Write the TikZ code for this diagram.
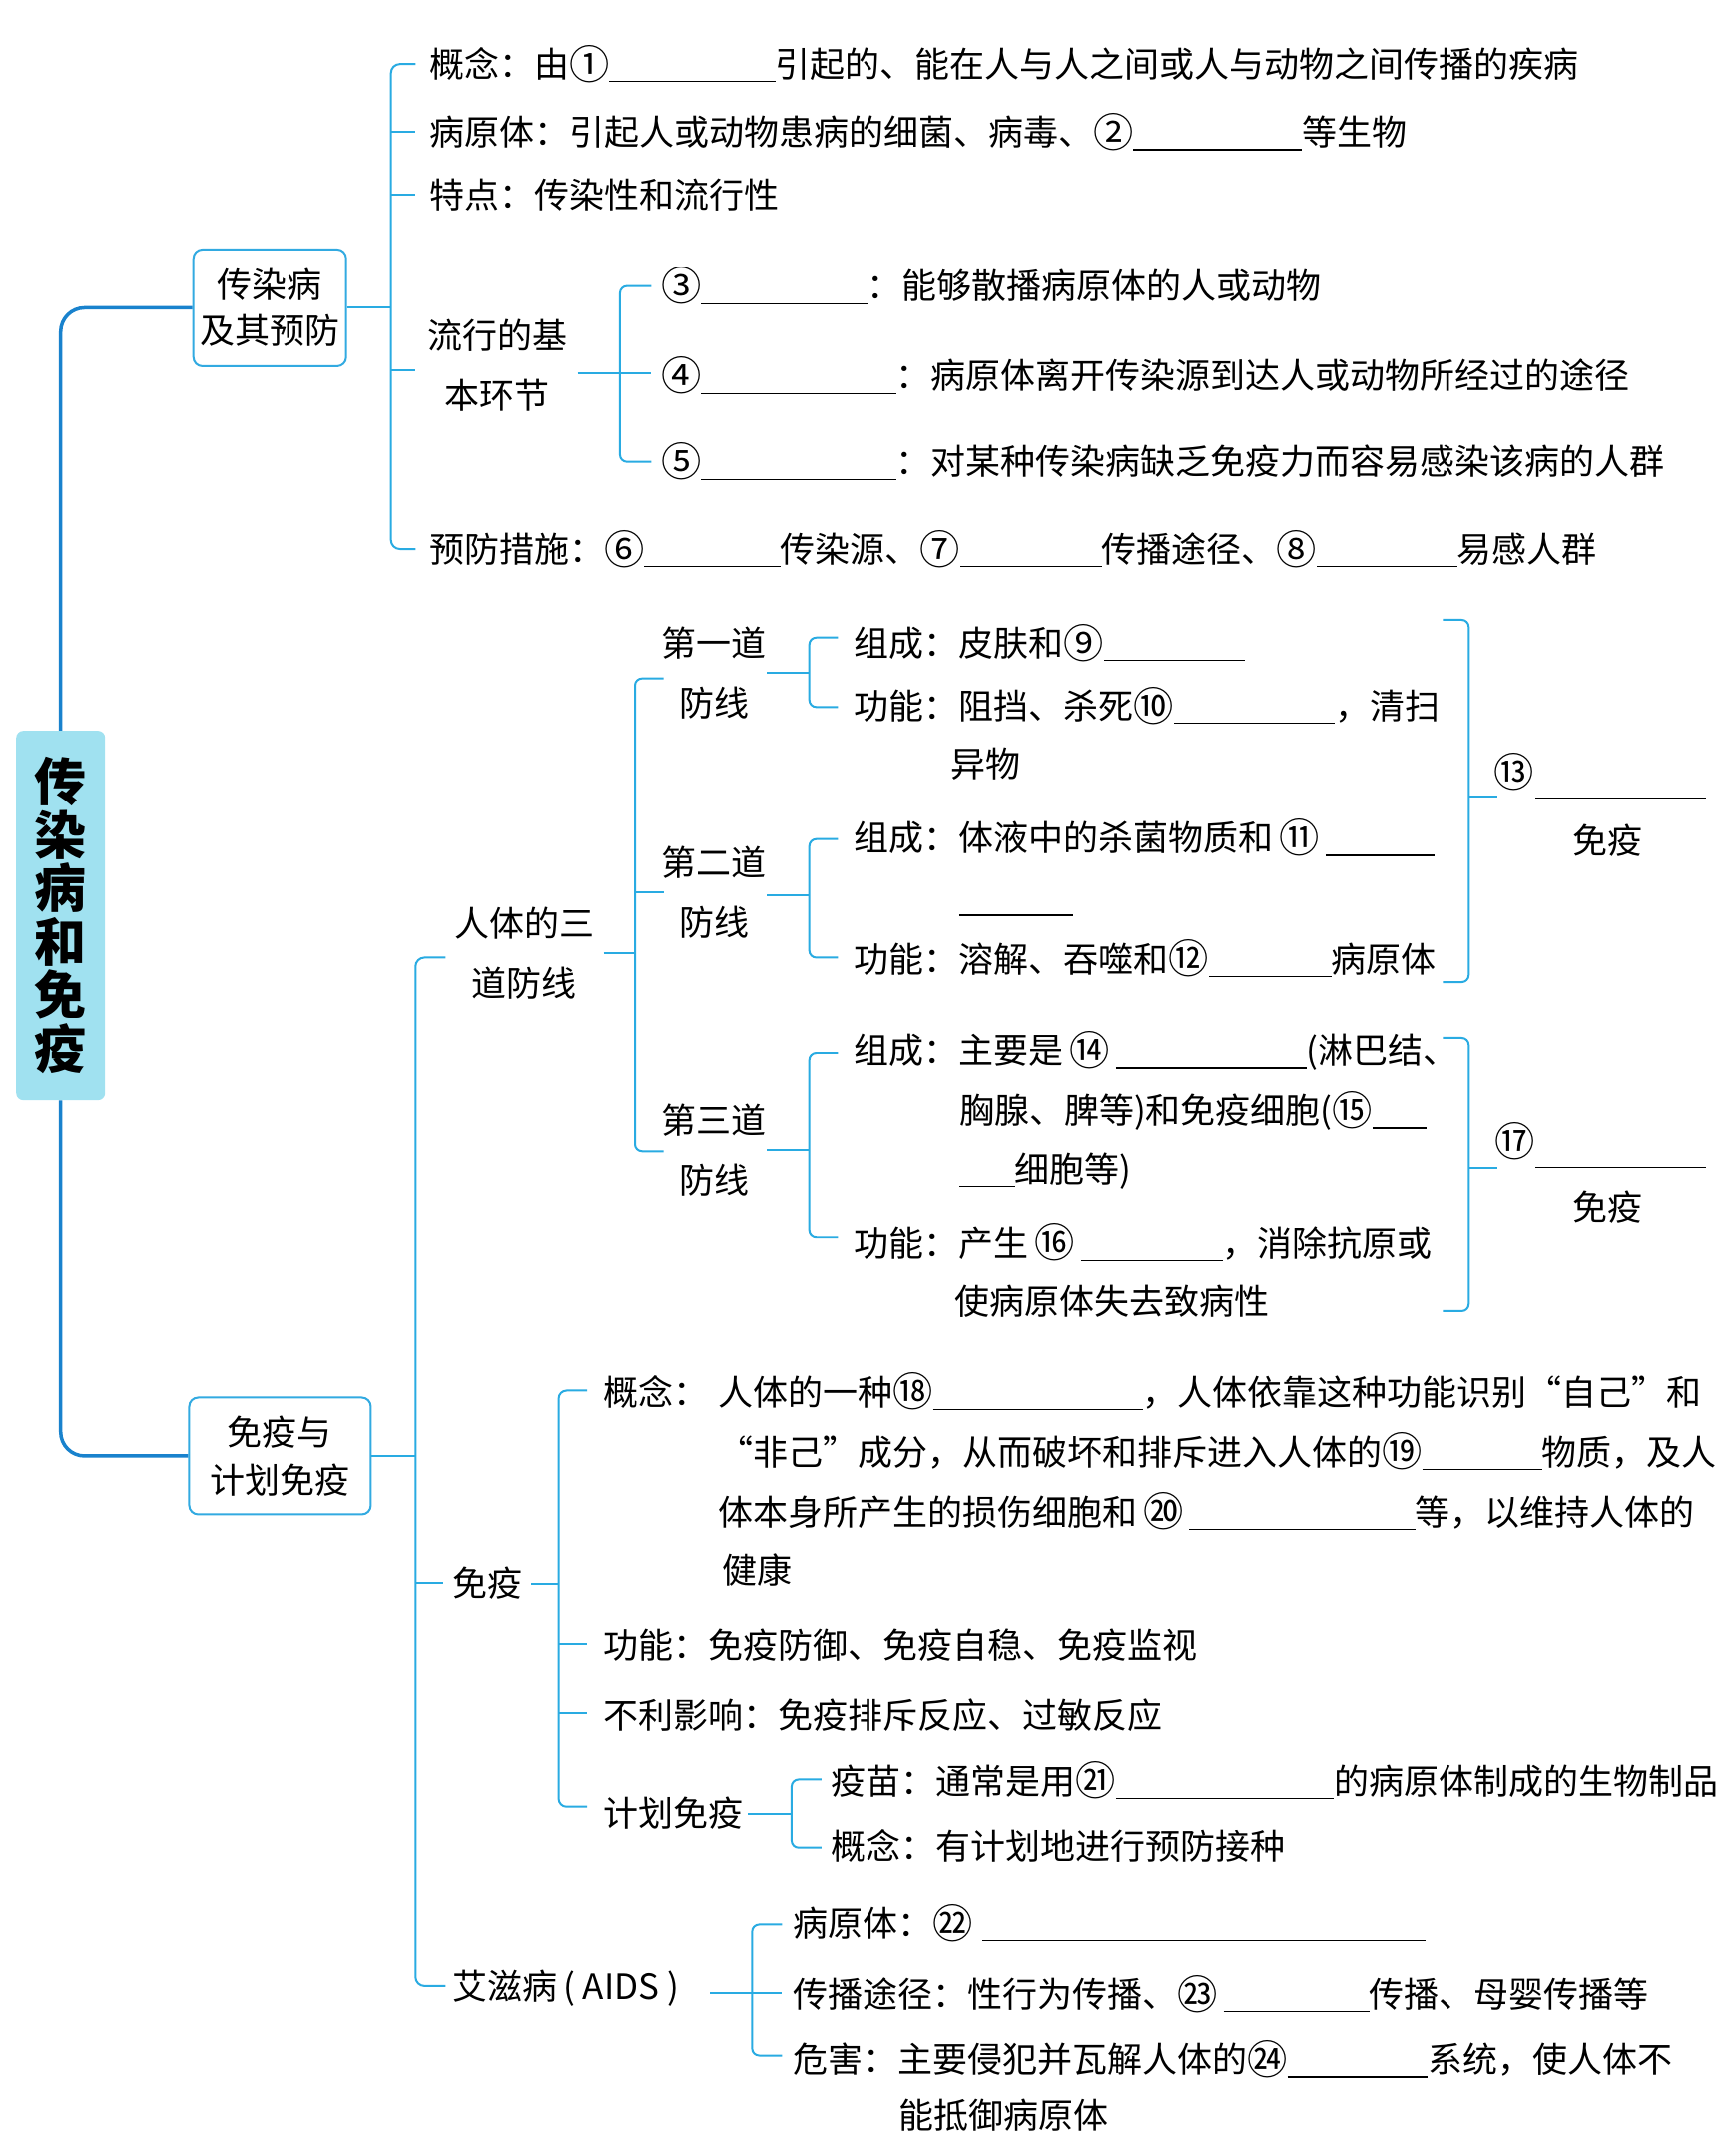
\documentclass[tikz,border=0pt]{standalone}
\usepackage{fontspec}
\setmainfont{Noto Sans CJK SC}
\definecolor{lc}{RGB}{41,171,226}
\definecolor{tc}{RGB}{25,130,205}
\definecolor{bc}{RGB}{50,170,225}
\definecolor{tf}{RGB}{160,225,240}
\newcommand\bk[1]{\rule[-5pt]{\dimexpr #1pt*1365/1000\relax}{1.4pt}}
\newcommand\cn[1]{\raisebox{-0.05em}{\scalebox{1.15}{#1}}}
\newcommand\mainfs{\fontsize{35pt}{44pt}\selectfont}
\newcommand\twofs{\fontsize{35pt}{60pt}\selectfont}
\tikzset{
  ln/.style={draw=lc, line width=2pt},
  rc/.style={rounded corners=7pt},
  trunk/.style={draw=tc, line width=3.5pt, rounded corners=24pt},
  ulin/.style={draw=black, line width=1.4pt},
  tx/.style={anchor=west, inner sep=0pt, text height=30.8pt, text depth=4.2pt, font=\mainfs},
  ctx/.style={inner sep=0pt, text height=30.8pt, text depth=4.2pt, font=\mainfs},
  two/.style={align=center, inner sep=0pt, font=\twofs},
  boxn/.style={draw=bc, line width=2pt, rounded corners=9pt, align=center, inner sep=0pt},
  titlebox/.style={fill=tf, rounded corners=7pt, minimum width=89pt, minimum height=370pt,
    inner sep=0pt, align=center, font=\bfseries\fontsize{52pt}{53.5pt}\selectfont}
}
\begin{document}
\begin{tikzpicture}[x=1.365pt,y=-1.365pt]
\useasboundingbox (0,0) rectangle (1274,1568);
\fill[white] (0,0) rectangle (1274,1568);

% ---------- main nodes ----------
\node[titlebox] (title) at (44.5,672) {传\\染\\病\\和\\免\\疫};
\node[boxn, minimum width=153pt, minimum height=117pt, font=\fontsize{35pt}{46pt}\selectfont] (box1) at (198,226) {传染病\\及其预防};
\node[boxn, minimum width=182pt, minimum height=117pt, font=\fontsize{35pt}{48pt}\selectfont] (box2) at (205.5,1069) {免疫与\\计划免疫};

\draw[trunk] (title.north) -- (title.north |- box1.west) -- (box1.west);
\draw[trunk] (title.south) -- (title.south |- box2.west) -- (box2.west);

% ---------- part 1 ----------
\draw[ln, rounded corners=9pt] (305,47) -- (287,47) -- (287,403) -- (305,403);
\draw[ln] (287,97) -- (305,97);
\draw[ln] (287,143) -- (305,143);
\draw[ln] (287,272) -- (305,272);
\draw[ln] (box1.east) -- (287,226);

\node[tx] (a1) at (315,47) {概念：由\cn{①}\bk{122}引起的、能在人与人之间或人与动物之间传播的疾病};
\node[tx] (a2) at (315,97) {病原体：引起人或动物患病的细菌、病毒、\cn{②}\bk{124}等生物};
\node[tx] (a3) at (315,143) {特点：传染性和流行性};
\node[two] (a4) at (365,268) {流行的基\\本环节};
\draw[ln, rc] (478,210) -- (455,210) -- (455,339) -- (478,339);
\draw[ln] (424,274) -- (478,274);
\node[tx] (a5) at (485,210) {\cn{③}\bk{122}：能够散播病原体的人或动物};
\node[tx] (a6) at (485,276) {\cn{④}\bk{143}：病原体离开传染源到达人或动物所经过的途径};
\node[tx] (a7) at (485,339) {\cn{⑤}\bk{143}：对某种传染病缺乏免疫力而容易感染该病的人群};
\node[tx] (a8) at (315,403) {预防措施：\cn{⑥}\bk{100}传染源、\cn{⑦}\bk{104}传播途径、\cn{⑧}\bk{103}易感人群};

% ---------- part 2 ----------
\draw[ln, rounded corners=9pt] (327,703) -- (305,703) -- (305,1458) -- (327,1458);
\draw[ln] (305,1162) -- (325,1162);
\draw[ln] (box2.east) -- (305,1069);

\node[two] (b0) at (385,700) {人体的三\\道防线};
\draw[ln, rc] (487,498) -- (466,498) -- (466,845) -- (487,845);
\draw[ln] (466,655) -- (487,655);
\draw[ln] (443,700) -- (466,700);

\node[two] (b1) at (524,494) {第一道\\防线};
\node[two] (b2) at (524,655) {第二道\\防线};
\node[two] (b3) at (524,844) {第三道\\防线};

\draw[ln, rc] (615,468) -- (594,468) -- (594,519) -- (615,519);
\draw[ln] (563,494) -- (594,494);
\draw[ln, rc] (615,616) -- (594,616) -- (594,703) -- (615,703);
\draw[ln] (563,657) -- (594,657);
\draw[ln, rc] (615,773) -- (594,773) -- (594,908) -- (615,908);
\draw[ln] (563,844) -- (594,844);

\node[tx] (c1) at (627,472) {组成：皮肤和\cn{⑨}\bk{103}};
\node[tx] (c2) at (627,518) {功能：阻挡、杀死\cn{⑩}\bk{118}，清扫};
\node[tx] (c3) at (698,561) {异物};
\node[tx] (c4) at (627,615) {组成：体液中的杀菌物质和\,\cn{⑪}\,\bk{80}};
\draw[ulin] (704,672) -- (788,672);
\node[tx] (c5) at (627,704) {功能：溶解、吞噬和\cn{⑫}\bk{90}病原体};
\node[tx] (c6) at (627,771) {组成：主要是\,\cn{⑭}\,\bk{140}(淋巴结、};
\node[tx] (c7) at (704,815) {胸腺、脾等)和免疫细胞(\cn{⑮}\bk{40}};
\node[tx] (c8) at (704,858) {\bk{41}细胞等)};
\node[tx] (c9) at (627,912) {功能：产生\,\cn{⑯}\,\bk{104}，消除抗原或};
\node[tx] (c10) at (701,955) {使病原体失去致病性};

\draw[ln, rc] (1059,455) -- (1078,455) -- (1078,721) -- (1059,721);
\draw[ln] (1078,585) -- (1099,585);
\node[ctx] (d1) at (1111,567) {\cn{⑬}};
\draw[ulin] (1127,586) -- (1252,586);
\node[ctx] (d2) at (1180,617) {免疫};

\draw[ln, rc] (1059,762) -- (1078,762) -- (1078,962) -- (1059,962);
\draw[ln] (1078,857) -- (1099,857);
\node[ctx] (d3) at (1112,838) {\cn{⑰}};
\draw[ulin] (1127,857) -- (1252,857);
\node[ctx] (d4) at (1180,886) {免疫};

% ---------- part 3 ----------
\node[tx] (e0) at (332,1162) {免疫};
\draw[ln, rounded corners=8pt] (431,1021) -- (410,1021) -- (410,1326) -- (431,1326);
\draw[ln] (410,1207) -- (431,1207);
\draw[ln] (410,1257) -- (431,1257);
\draw[ln] (390,1163) -- (410,1163);

\node[tx] (e1) at (443,1022) {概念：};
\node[tx] (e2) at (527,1022) {人体的一种\cn{⑱}\bk{154}，人体依靠这种功能识别“自己”和};
\node[tx] (e3) at (527,1066) {“非己”成分，从而破坏和排斥进入人体的\cn{⑲}\bk{88}物质，及人};
\node[tx] (e4) at (527,1110) {体本身所产生的损伤细胞和\,\cn{⑳}\,\bk{166}等，以维持人体的};
\node[tx] (e5) at (530,1153) {健康};
\node[tx] (e6) at (443,1208) {功能：免疫防御、免疫自稳、免疫监视};
\node[tx] (e7) at (443,1259) {不利影响：免疫排斥反应、过敏反应};
\node[tx] (e8) at (443,1331) {计划免疫};
\draw[ln, rc] (603,1306) -- (581,1306) -- (581,1356) -- (603,1356);
\draw[ln] (549,1331) -- (581,1331);
\node[tx] (e9) at (610,1307) {疫苗：通常是用\cn{㉑}\bk{160}的病原体制成的生物制品};
\node[tx] (e10) at (610,1355) {概念：有计划地进行预防接种};

\node[tx] (f0) at (332,1458) {艾滋病\,( AIDS )};
\draw[ln, rc] (574,1413) -- (552,1413) -- (552,1509) -- (574,1509);
\draw[ln] (521,1463) -- (574,1463);
\node[tx] (f1) at (582,1412) {病原体：\cn{㉒}\;\bk{325}};
\node[tx] (f2) at (582,1464) {传播途径：性行为传播、\cn{㉓}\,\bk{107}传播、母婴传播等};
\node[tx] (f3) at (582,1512) {危害：主要侵犯并瓦解人体的\cn{㉔}\bk{103}系统，使人体不};
\node[tx] (f4) at (660,1553) {能抵御病原体};
\end{tikzpicture}
\end{document}
